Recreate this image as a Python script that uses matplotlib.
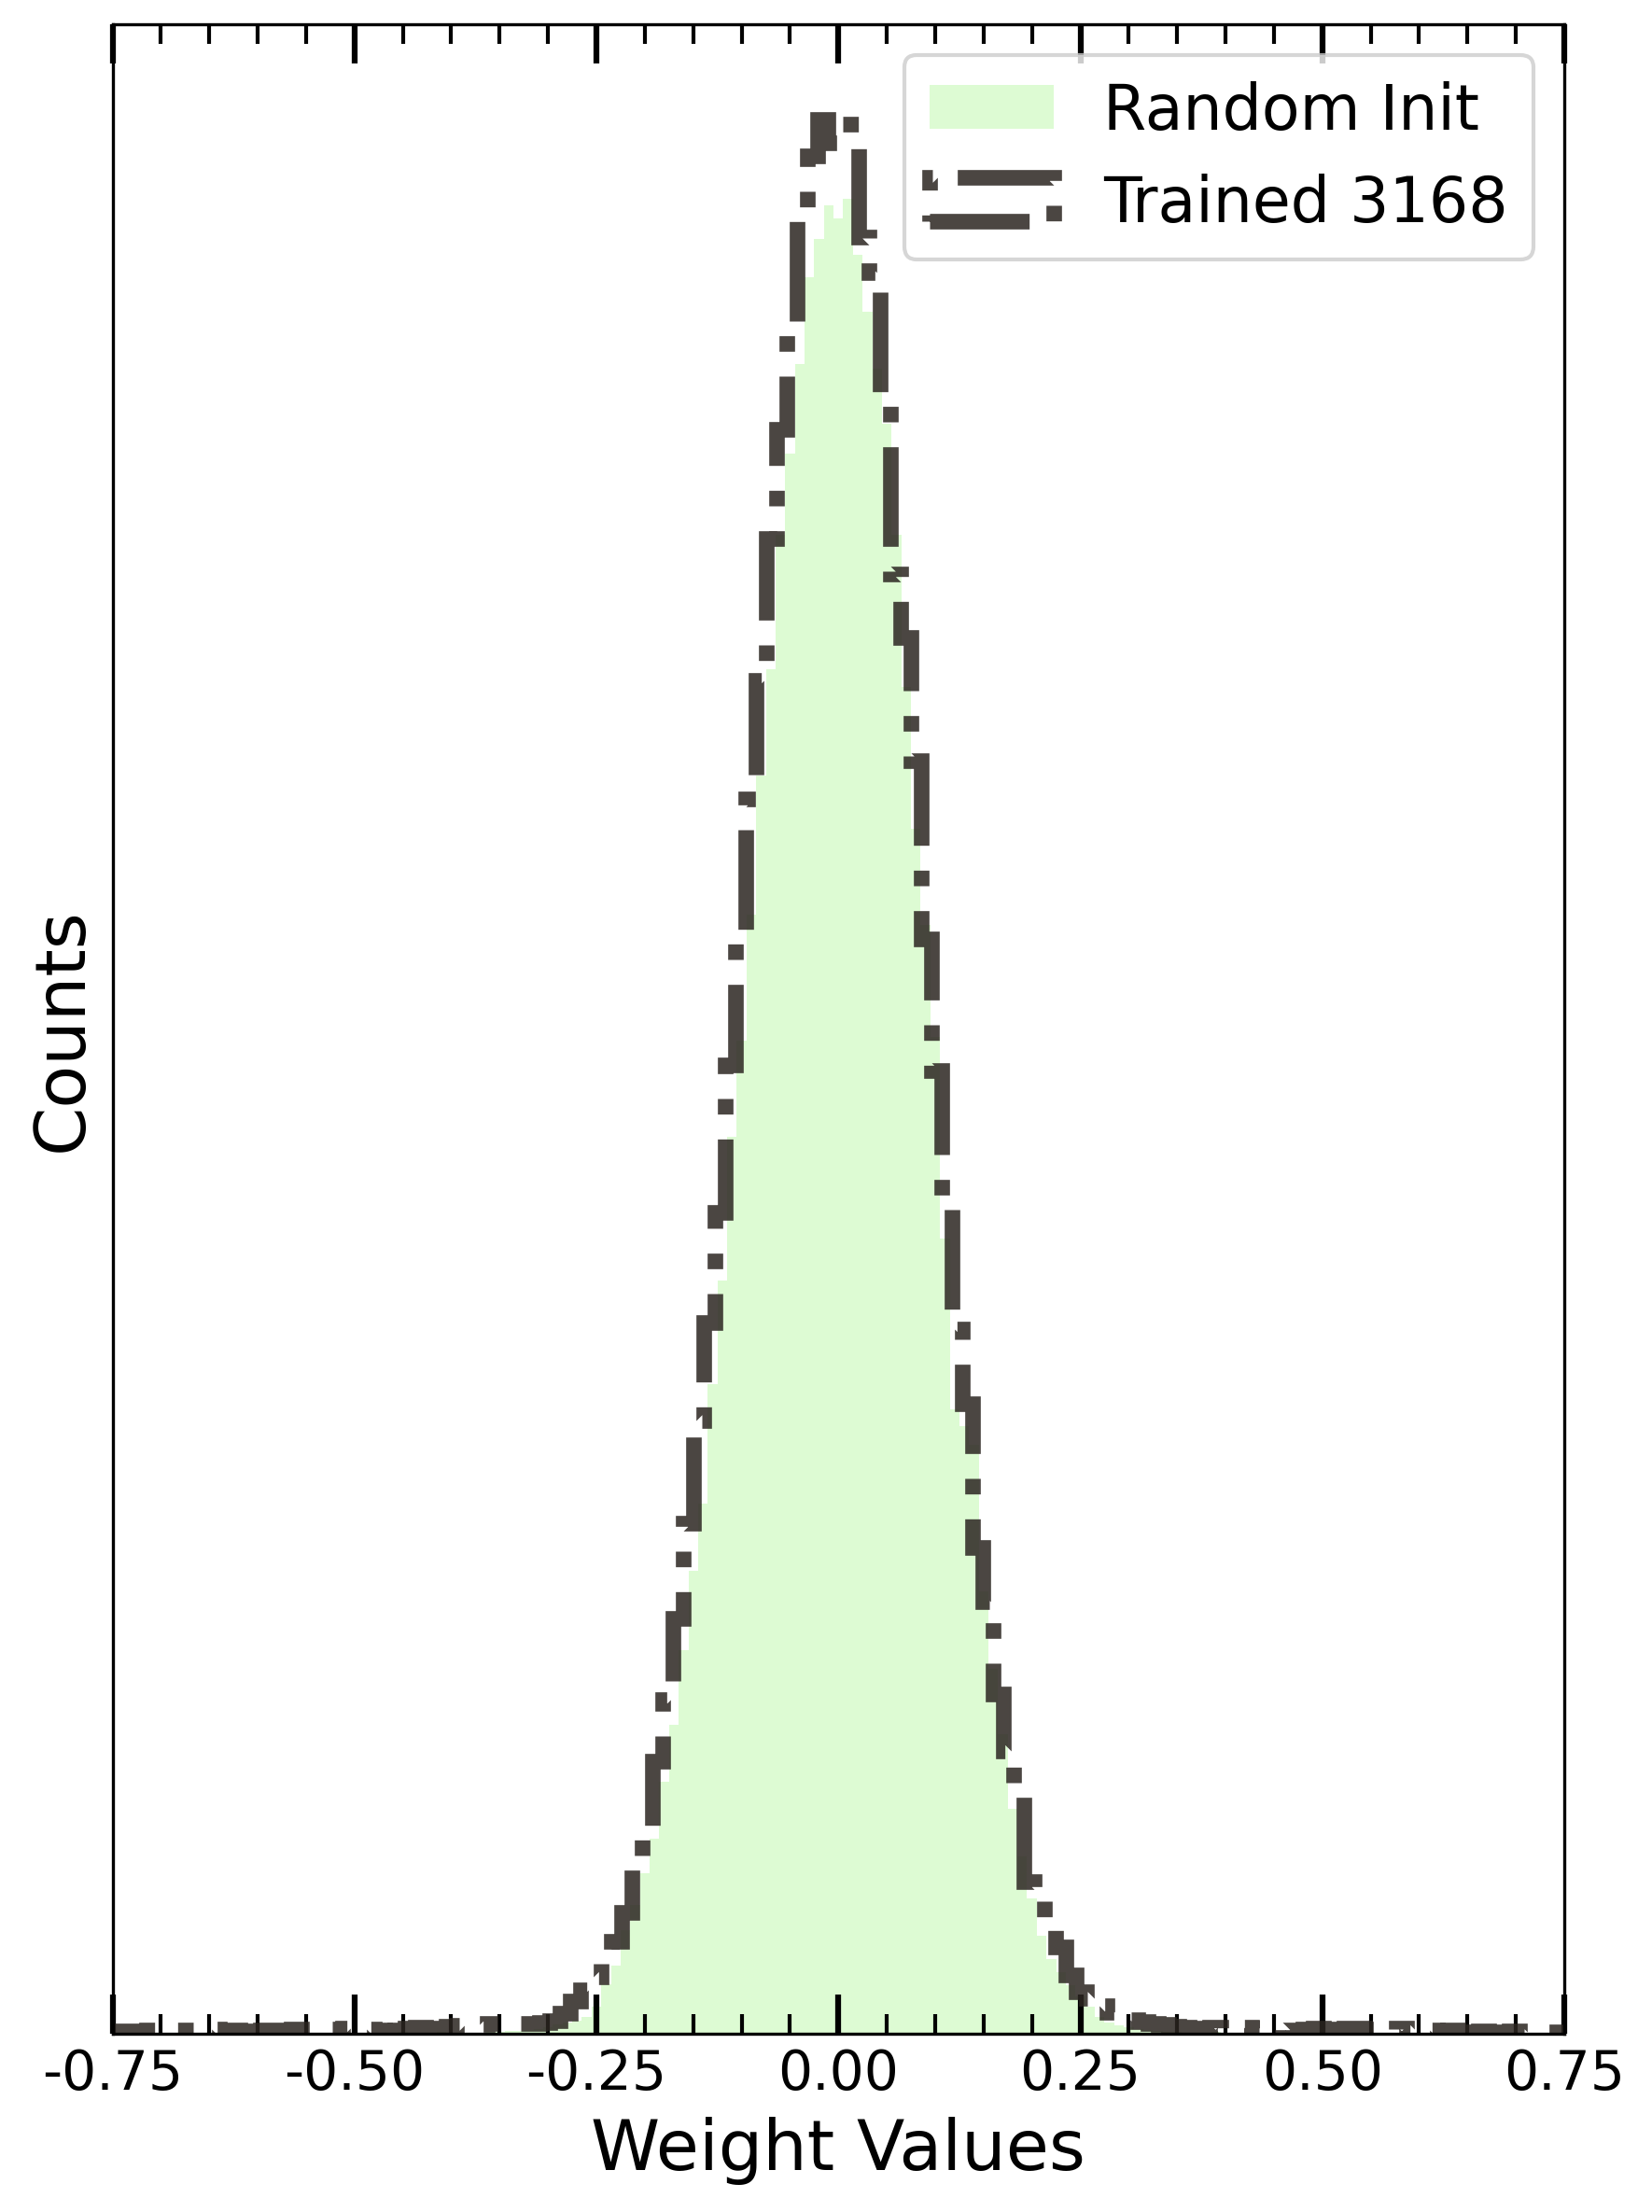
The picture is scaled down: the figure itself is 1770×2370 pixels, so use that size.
import numpy as np
import matplotlib
matplotlib.use("Agg")
import matplotlib.pyplot as plt
from matplotlib.ticker import MultipleLocator

# trained weights histogram: 150 bins over [-0.8, 0.8]
trained_lo, trained_hi = -0.8, 0.8
trained_counts = [
    3, 2, 3, 3, 2,
    3, 3, 2, 4, 4, 5, 4, 4, 4, 5,
    4, 4, 3, 2, 4, 4, 3, 5, 5, 6,
    5, 5, 6, 5, 5, 4, 3, 4, 6, 7,
    6, 5, 8, 9, 10, 10, 11, 11, 12, 11,
    11, 12, 14, 22, 35, 47, 61, 84, 99, 130,
    180, 218, 291, 357, 444, 546, 656, 761, 878, 1036,
    1174, 1321, 1447, 1599, 1716, 1823, 1940, 2008, 2047, 2022,
    2042, 2042, 1922, 1884, 1750, 1561, 1493, 1362, 1171, 1030,
    895, 754, 674, 520, 462, 363, 302, 259, 163, 151,
    112, 93, 63, 45, 38, 30, 23, 17, 15, 13,
    11, 10, 8, 7, 6, 6, 7, 6, 6, 7,
    6, 6, 5, 4, 3, 5, 6, 5, 4, 6,
    6, 5, 6, 5, 6, 5, 6, 4, 3, 4,
    2, 2, 3, 2, 2, 3, 2, 2, 2, 2,
    2, 2, 2, 2, 2,
]

# random init histogram: bins of 0.01 starting at -0.465
init_lo, init_width = -0.465, 0.01
init_counts = [
    1, 2, 1, 0, 1, 2, 1, 1, 0, 1, 2, 2, 3, 3, 4,
    5, 7, 10, 12, 14, 18, 29, 53, 73, 111,
    138, 172, 209, 269, 330, 410, 495, 567, 695, 805,
    959, 1062, 1197, 1346, 1459, 1603, 1690, 1786, 1879, 1920,
    1955, 1942, 1962, 1903, 1842, 1781, 1722, 1603, 1440, 1289,
    1186, 1066, 850, 668, 650, 630, 473, 390, 320, 240,
    190, 145, 105, 80, 66, 52, 40, 29, 18, 12,
    9, 7, 5, 4,
    3, 2, 2, 1, 0, 1, 2, 1, 0, 1, 1, 0, 1,
]

xticks = [-0.75, -0.50, -0.25, 0.00, 0.25, 0.50, 0.75]
xticklabels = ['-0.75', '-0.50', '-0.25', '0.00', '0.25', '0.50', '0.75']

trained_edges = np.linspace(trained_lo, trained_hi, len(trained_counts) + 1)
trained_centers = 0.5 * (trained_edges[:-1] + trained_edges[1:])
init_edges = init_lo + init_width * np.arange(len(init_counts) + 1)
init_centers = 0.5 * (init_edges[:-1] + init_edges[1:])

fig = plt.figure(figsize=(5.9, 7.9033), dpi=300)
ax = fig.add_axes([0.0681, 0.0806, 0.8788, 0.9081])

ax.hist(init_centers, bins=init_edges, weights=init_counts,
        histtype='stepfilled', color='#ddfbd3', label='Random Init')
ax.hist(trained_centers, bins=trained_edges, weights=trained_counts,
        histtype='step', linestyle='-.', linewidth=4, color='#2b2521',
        alpha=0.85, label='Trained 3168')

ax.set_xlim(-0.75, 0.75)
ax.set_xticks(xticks)
ax.set_xticklabels(xticklabels)
ax.xaxis.set_minor_locator(MultipleLocator(0.05))
ax.tick_params(axis='x', which='both', direction='in', top=True, labelsize=14)
ax.tick_params(axis='x', which='major', length=10, width=1.5)
ax.tick_params(axis='x', which='minor', length=5, width=1)
ax.tick_params(axis='y', which='both', left=False, right=False, labelleft=False)

ax.set_xlabel('Weight Values', fontsize=18)
ax.set_ylabel('Counts', fontsize=18)
ax.legend(loc='upper right', fontsize=16)

fig.savefig('out.png', dpi=300)
